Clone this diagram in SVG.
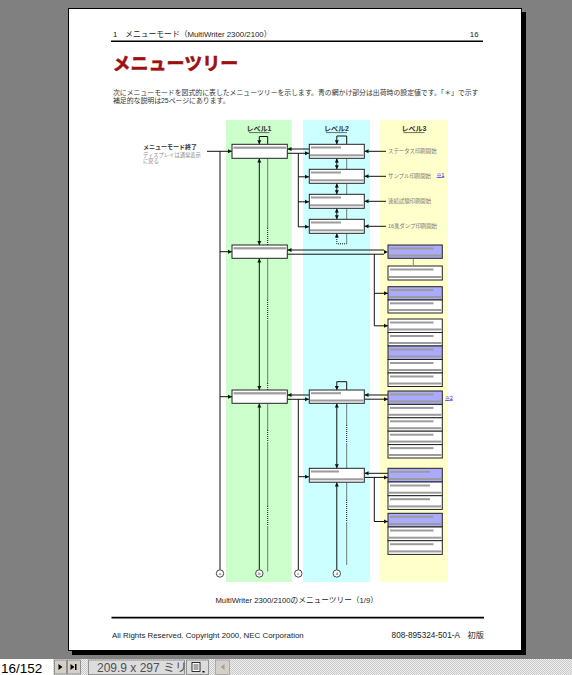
<svg xmlns="http://www.w3.org/2000/svg" xmlns:xlink="http://www.w3.org/1999/xlink" width="572" height="675" viewBox="0 0 572 675">
<style>
text{font-family:"Liberation Sans","Noto Sans CJK JP",sans-serif}
.bx{fill:#fff;stroke:#222;stroke-width:1}
.bb{fill:#aaaaff;stroke:#222;stroke-width:1}
.bar{fill:#9c9c9c}
.ln{stroke:#111;stroke-width:1;fill:none}
.dt{stroke:#111;stroke-width:1;fill:none;stroke-dasharray:1 1}
.th{stroke:#444;stroke-width:0.7;fill:none}
.hd{font-size:7px;font-weight:bold;fill:#333;text-anchor:middle}
.l3{font-size:5.4px;fill:#777}
.lk{font-size:5px;fill:#00f;text-decoration:underline}
.ci{fill:#fff;stroke:#333;stroke-width:0.9}
.ct{font-size:4px;fill:#333;text-anchor:middle}
</style>
<defs>
<polygon id="ar" points="0,0 -4,-2 -4,2" fill="#111"/>
<polygon id="al" points="0,0 4,-2 4,2" fill="#111"/>
<polygon id="au" points="0,0 -2,4 2,4" fill="#111"/>
<polygon id="ad" points="0,0 -2,-4 2,-4" fill="#111"/>
<pattern id="chk" width="2" height="2" patternUnits="userSpaceOnUse">
<rect width="2" height="2" fill="#f0f0f0"/><rect width="1" height="1" fill="#c8c8c8"/><rect x="1" y="1" width="1" height="1" fill="#c8c8c8"/>
</pattern>
</defs>

<!-- viewer background -->
<rect x="0" y="0" width="572" height="659" fill="#808080"/>
<rect x="0" y="659" width="572" height="16" fill="url(#chk)"/>

<!-- page -->
<g id="page">
<rect x="72" y="12" width="454" height="643" fill="#000"/>
<rect x="68.5" y="8.5" width="453" height="642" fill="#fff" stroke="#000" stroke-width="1"/>
</g>

<!-- header -->
<g id="header">
<text x="113" y="37" font-size="7.8" fill="#222">1　メニューモード（MultiWriter 2300/2100）</text>
<text x="478.5" y="37" font-size="7.8" fill="#222" text-anchor="end">16</text>
<line x1="111" y1="41.3" x2="483" y2="41.3" stroke="#000" stroke-width="1.4"/>
<text x="112.5" y="70" font-size="18" font-weight="bold" fill="#9e1010" stroke="#9e1010" stroke-width="0.6">メニューツリー</text>
<text x="113" y="94.5" font-size="6.87" fill="#333">次にメニューモードを図式的に表したメニューツリーを示します。青の網かけ部分は出荷時の設定値です。「＊」で示す</text>
<text x="113" y="102.5" font-size="6.87" fill="#333">補足的な説明は25ページにあります。</text>
</g>

<!-- columns -->
<g id="columns">
<rect x="226" y="120" width="65.7" height="462" fill="#ccffcc"/>
<rect x="303" y="120" width="67" height="462" fill="#ccffff"/>
<rect x="380" y="120" width="68" height="462" fill="#ffffcc"/>
<text class="hd" x="259" y="131">レベル1</text>
<line x1="249" y1="132.6" x2="269.5" y2="132.6" stroke="#333" stroke-width="0.7"/>
<text class="hd" x="336.5" y="131">レベル2</text>
<line x1="326" y1="132.6" x2="347" y2="132.6" stroke="#333" stroke-width="0.7"/>
<text class="hd" x="414" y="131">レベル3</text>
<line x1="403.5" y1="132.6" x2="424.5" y2="132.6" stroke="#333" stroke-width="0.7"/>
</g>

<!-- left label -->
<g id="exit-label">
<text x="143" y="149" font-size="6" font-weight="bold" fill="#333">メニューモード終了</text>
<text x="143" y="156.5" font-size="5.3" fill="#888">ディスプレイは通常表示</text>
<text x="143" y="163" font-size="5.3" fill="#888">に戻る</text>
</g>

<!-- connectors -->
<g id="connectors">
<!-- level1 spine -->
<path class="ln" d="M207,151.3 H232 M220,151.3 V569.8 M220,251.7 H232 M220,396.7 H232"/>
<use href="#ar" x="232" y="151.3"/><use href="#ar" x="232" y="251.7"/><use href="#ar" x="232" y="396.7"/>
<!-- level1 loop and verticals -->
<path class="ln" d="M259.3,144.3 V136.5 H267.7 V144.3"/>
<use href="#ad" x="259.3" y="144.3"/>
<path class="ln" d="M259.3,158.3 V245 M259.3,258.3 V390 M259.3,403.3 V569.8"/>
<use href="#au" x="259.3" y="158.5"/><use href="#ad" x="259.3" y="245"/>
<use href="#au" x="259.3" y="258.5"/><use href="#ad" x="259.3" y="390"/>
<use href="#au" x="259.3" y="403.5"/>
<path class="th" d="M267.7,158.3 V228 M267.7,258.3 V300 M267.7,320 V383 M267.7,403.3 V430 M267.7,442 V506 M267.7,526 V571.5"/>
<path class="dt" d="M267.7,228 V245 M267.7,300 V320 M267.7,383 V390 M267.7,430 V442 M267.7,506 V526"/>

<!-- L1 box1 -> L2 -->
<path class="ln" d="M287.3,149 H309 M287.3,153.3 H309 M298.3,153.3 V227 M298.3,176.8 H309 M298.3,201.8 H309 M298.3,226.8 H309"/>
<use href="#al" x="287.5" y="149"/><use href="#ar" x="309" y="153.3"/>
<use href="#ar" x="309" y="176.8"/><use href="#ar" x="309" y="201.8"/><use href="#ar" x="309" y="226.8"/>
<!-- L2 loop and verticals (top group) -->
<path class="ln" d="M336.8,144.3 V136 H346.7 V144.3"/>
<use href="#ad" x="336.8" y="144.3"/>
<path class="ln" d="M336.8,158.3 V169.3 M336.8,183.3 V194.3 M336.8,208.3 V219.3"/>
<use href="#au" x="336.8" y="158.5"/><use href="#ad" x="336.8" y="169.3"/>
<use href="#au" x="336.8" y="183.5"/><use href="#ad" x="336.8" y="194.3"/>
<use href="#au" x="336.8" y="208.5"/><use href="#ad" x="336.8" y="219.3"/>
<path class="th" d="M346.7,158.3 V169.3 M346.7,183.3 V194.3 M346.7,208.3 V219.3"/>
<path class="ln" d="M336.8,233.3 V236"/>
<use href="#au" x="336.8" y="233.5"/>
<path class="dt" d="M336.8,237 V243.8 H346.7 V233.3"/>
<!-- L2 -> level3 labels -->
<path class="ln" d="M364.3,151.3 H386 M364.3,176.3 H386 M364.3,201.3 H386 M364.3,226.3 H386"/>
<use href="#al" x="364.5" y="151.3"/><use href="#al" x="364.5" y="176.3"/><use href="#al" x="364.5" y="201.3"/><use href="#al" x="364.5" y="226.3"/>

<!-- L1 box2 -> L3 -->
<path class="ln" d="M287.3,250 H384 M287.3,254.2 H384 M374.3,254.2 V325.8 M374.3,293.3 H388 M374.3,325.8 H388"/>
<use href="#al" x="287.5" y="250"/><use href="#ar" x="388" y="252.1"/>
<use href="#ar" x="388" y="293.3"/><use href="#ar" x="388" y="325.8"/>
<path class="dt" d="M413.3,259.5 V265.5" stroke="#999"/>

<!-- L1 box3 -> L2 -->
<path class="ln" d="M287.3,395 H309 M287.3,399.3 H309 M298.3,399.3 V569.8 M298.3,476.7 H309"/>
<use href="#al" x="287.5" y="395"/><use href="#ar" x="309" y="399.3"/><use href="#ar" x="309" y="476.7"/>
<!-- L2 box5 loop, verticals -->
<path class="ln" d="M336.8,390 V381.7 H346.7 V390"/>
<use href="#ad" x="336.8" y="390"/>
<path class="ln" d="M336.8,403.3 V468.3 M336.8,482.2 V569.8"/>
<use href="#au" x="336.8" y="403.5"/><use href="#ad" x="336.8" y="468.3"/><use href="#au" x="336.8" y="482.4"/>
<path class="th" d="M346.7,403.3 V425 M346.7,443 V468.3 M346.7,482.2 V500 M346.7,522 V565"/>
<path class="dt" d="M346.7,425 V443 M346.7,500 V522"/>
<!-- L2 box5 -> J -->
<path class="ln" d="M364.3,395 H388 M364.3,399.2 H388"/>
<use href="#al" x="364.5" y="395"/><use href="#ar" x="388" y="399.2"/>
<!-- L2 box6 -> K, L -->
<path class="ln" d="M364.3,473.3 H388 M364.3,477.4 H388 M374.3,477.4 V521.5 H388"/>
<use href="#al" x="364.5" y="473.3"/><use href="#ar" x="388" y="477.4"/><use href="#ar" x="388" y="521.5"/>
</g>

<!-- Level 1 nodes -->
<g id="l1-1"><rect class="bx" x="232" y="144.3" width="55.3" height="14"/><rect class="bar" x="233.5" y="146.6" width="52.5" height="2.2"/></g>
<g id="l1-2"><rect class="bx" x="232" y="245" width="55.3" height="13.3"/><rect class="bar" x="233.5" y="247.2" width="52.5" height="2.2"/></g>
<g id="l1-3"><rect class="bx" x="232" y="390" width="55.3" height="13.3"/><rect class="bar" x="233.5" y="392.2" width="52.5" height="2.2"/></g>

<!-- Level 2 nodes -->
<g id="l2-1"><rect class="bx" x="309.3" y="144.3" width="55" height="14"/><rect class="bar" x="311" y="146.5" width="30" height="2"/><rect class="bar" x="310" y="154.3" width="53.6" height="2"/></g>
<g id="l2-2"><rect class="bx" x="309.3" y="169.3" width="55" height="14"/><rect class="bar" x="311" y="171.5" width="30" height="2"/><rect class="bar" x="310" y="179.3" width="53.6" height="2"/></g>
<g id="l2-3"><rect class="bx" x="309.3" y="194.3" width="55" height="14"/><rect class="bar" x="311" y="196.5" width="30" height="2"/><rect class="bar" x="310" y="204.3" width="53.6" height="2"/></g>
<g id="l2-4"><rect class="bx" x="309.3" y="219.3" width="55" height="14"/><rect class="bar" x="311" y="221.5" width="30" height="2"/><rect class="bar" x="310" y="229.3" width="53.6" height="2"/></g>
<g id="l2-5"><rect class="bx" x="309.3" y="390" width="55" height="13.3"/><rect class="bar" x="311" y="392.2" width="30" height="2"/><rect class="bar" x="310" y="399.5" width="53.6" height="2"/></g>
<g id="l2-6"><rect class="bx" x="309.3" y="468.3" width="55" height="13.9"/><rect class="bar" x="311" y="470.5" width="28" height="2"/><rect class="bar" x="310" y="478.3" width="53.6" height="2"/></g>

<!-- Level 3 labels -->
<g id="l3-labels">
<text class="l3" x="388" y="153.2">ステータス印刷開始</text>
<text class="l3" x="388" y="178.2">サンプル印刷開始</text>
<text class="lk" x="436.5" y="176.5">※1</text>
<text class="l3" x="388" y="203.2">連続試験印刷開始</text>
<text class="l3" x="388" y="228.2">16進ダンプ印刷開始</text>
</g>

<!-- Level 3 nodes -->
<g id="l3-a"><rect class="bb" x="388" y="245" width="54.3" height="13.3"/><rect class="bar" x="390" y="247.5" width="43.5" height="2"/><rect class="bar" x="389" y="254.5" width="52.5" height="2"/></g>
<g id="l3-b"><rect class="bx" x="388" y="266" width="54.3" height="14"/><rect class="bar" x="390" y="268.5" width="43.5" height="2"/><rect class="bar" x="389" y="276" width="52.5" height="2"/></g>
<g id="l3-c">
<rect class="bb" x="388" y="286.7" width="54.3" height="13.3"/><rect class="bar" x="390" y="289" width="43.5" height="2"/><rect class="bar" x="389" y="296" width="52.5" height="2"/>
<rect class="bx" x="388" y="300" width="54.3" height="13"/><rect class="bar" x="390" y="302.3" width="43.5" height="2"/><rect class="bar" x="389" y="309" width="52.5" height="2"/>
</g>
<g id="l3-e">
<rect class="bx" x="388" y="319" width="54.3" height="13.5"/><rect class="bar" x="390" y="321.5" width="43.5" height="2"/><rect class="bar" x="389" y="328.5" width="52.5" height="2"/>
<rect class="bx" x="388" y="332.5" width="54.3" height="13.5"/><rect class="bar" x="390" y="335" width="43.5" height="2"/><rect class="bar" x="389" y="342" width="52.5" height="2"/>
<rect class="bb" x="388" y="346" width="54.3" height="13.5"/><rect class="bar" x="390" y="348.5" width="43.5" height="2"/><rect class="bar" x="389" y="355.5" width="52.5" height="2"/>
<rect class="bx" x="388" y="359.5" width="54.3" height="13.5"/><rect class="bar" x="390" y="362" width="43.5" height="2"/><rect class="bar" x="389" y="369" width="52.5" height="2"/>
<rect class="bx" x="388" y="373" width="54.3" height="13.5"/><rect class="bar" x="390" y="375.5" width="43.5" height="2"/><rect class="bar" x="389" y="382.5" width="52.5" height="2"/>
</g>
<g id="l3-j">
<rect class="bb" x="388" y="391" width="54.3" height="13.4"/><rect class="bar" x="390" y="393.5" width="43.5" height="2"/><rect class="bar" x="389" y="400.4" width="52.5" height="2"/>
<rect class="bx" x="388" y="404.4" width="54.3" height="13.4"/><rect class="bar" x="390" y="406.9" width="43.5" height="2"/><rect class="bar" x="389" y="413.8" width="52.5" height="2"/>
<rect class="bx" x="388" y="417.8" width="54.3" height="13.4"/><rect class="bar" x="390" y="420.3" width="43.5" height="2"/><rect class="bar" x="389" y="427.2" width="52.5" height="2"/>
<rect class="bx" x="388" y="431.2" width="54.3" height="13.4"/><rect class="bar" x="390" y="433.7" width="43.5" height="2"/><rect class="bar" x="389" y="440.6" width="52.5" height="2"/>
<rect class="bx" x="388" y="444.6" width="54.3" height="13.4"/><rect class="bar" x="390" y="447.1" width="43.5" height="2"/><rect class="bar" x="389" y="454" width="52.5" height="2"/>
<text class="lk" x="445" y="399.5">※2</text>
</g>
<g id="l3-k">
<rect class="bb" x="388" y="468.3" width="54.3" height="13.7"/><rect class="bar" x="390" y="470.8" width="40" height="2"/><rect class="bar" x="389" y="478" width="52.5" height="2"/>
<rect class="bx" x="388" y="482" width="54.3" height="13.7"/><rect class="bar" x="390" y="484.5" width="40" height="2"/><rect class="bar" x="389" y="491.7" width="52.5" height="2"/>
<rect class="bx" x="388" y="495.7" width="54.3" height="13.7"/><rect class="bar" x="390" y="498.2" width="40" height="2"/><rect class="bar" x="389" y="505.4" width="52.5" height="2"/>
</g>
<g id="l3-l">
<rect class="bb" x="388" y="513.3" width="54.3" height="13.7"/><rect class="bar" x="390" y="515.8" width="43.5" height="2"/><rect class="bar" x="389" y="523" width="52.5" height="2"/>
<rect class="bx" x="388" y="527" width="54.3" height="13.7"/><rect class="bar" x="390" y="529.5" width="43.5" height="2"/><rect class="bar" x="389" y="536.7" width="52.5" height="2"/>
<rect class="bx" x="388" y="540.7" width="54.3" height="13.7"/><rect class="bar" x="390" y="543.2" width="43.5" height="2"/><rect class="bar" x="389" y="550.4" width="52.5" height="2"/>
</g>

<!-- bottom connector circles -->
<g id="term-a"><circle class="ci" cx="220" cy="573.5" r="3.7"/><text class="ct" x="220" y="575">a</text></g>
<g id="term-b"><circle class="ci" cx="259.3" cy="573.5" r="3.7"/><text class="ct" x="259.3" y="575">b</text></g>
<g id="term-c"><circle class="ci" cx="298.3" cy="573.5" r="3.7"/><text class="ct" x="298.3" y="575">c</text></g>
<g id="term-d"><circle class="ci" cx="336.8" cy="573.5" r="3.7"/><text class="ct" x="336.8" y="575">d</text></g>

<!-- caption and footer -->
<g id="footer">
<text x="296.7" y="602.5" font-size="7.7" fill="#222" text-anchor="middle">MultiWriter 2300/2100のメニューツリー（1/9）</text>
<line x1="111.5" y1="617.6" x2="484" y2="617.6" stroke="#000" stroke-width="1.8"/>
<text x="112" y="637.5" font-size="7.9" fill="#222">All Rights Reserved.  Copyright 2000, NEC Corporation</text>
<text x="484" y="637.5" font-size="8.2" fill="#222" text-anchor="end">808-895324-501-A　初版</text>
</g>

<!-- status bar -->
<g id="statusbar">
<rect x="0" y="659" width="53" height="16" fill="#fff"/>
<text x="1" y="672.5" font-size="13.5" fill="#000">16/152</text>
<rect x="54.5" y="660" width="12" height="14" fill="#d4d0c8" stroke="#808080" stroke-width="0.8"/>
<polygon points="58.5,664 58.5,670 62.5,667" fill="#000"/>
<rect x="67.5" y="660" width="13" height="14" fill="#d4d0c8" stroke="#808080" stroke-width="0.8"/>
<polygon points="70.5,664 70.5,670 74.5,667" fill="#000"/><rect x="75" y="664" width="1.5" height="6" fill="#000"/>
<rect x="88.5" y="660" width="96" height="14.5" fill="#dcdcdc" stroke="#808080" stroke-width="0.8"/>
<text x="97" y="672" font-size="12" fill="#505050">209.9 x 297 ミリ</text>
<rect x="186.5" y="660" width="22" height="14.5" fill="#dcdcdc" stroke="#808080" stroke-width="0.8"/>
<rect x="192" y="662.5" width="8" height="9" fill="#fff" stroke="#000" stroke-width="0.8"/>
<path d="M193.5,665 H198.5 M193.5,667 H198.5 M193.5,669 H198.5" stroke="#000" stroke-width="0.7"/>
<rect x="202.5" y="671" width="2" height="1.5" fill="#000"/>
<rect x="215.5" y="660" width="14" height="14.5" fill="#d4d0c8" stroke="#a0a0a0" stroke-width="0.8"/>
<polygon points="224.5,664 224.5,670 220.5,667" fill="#a0a0a0"/>
</g>
</svg>
